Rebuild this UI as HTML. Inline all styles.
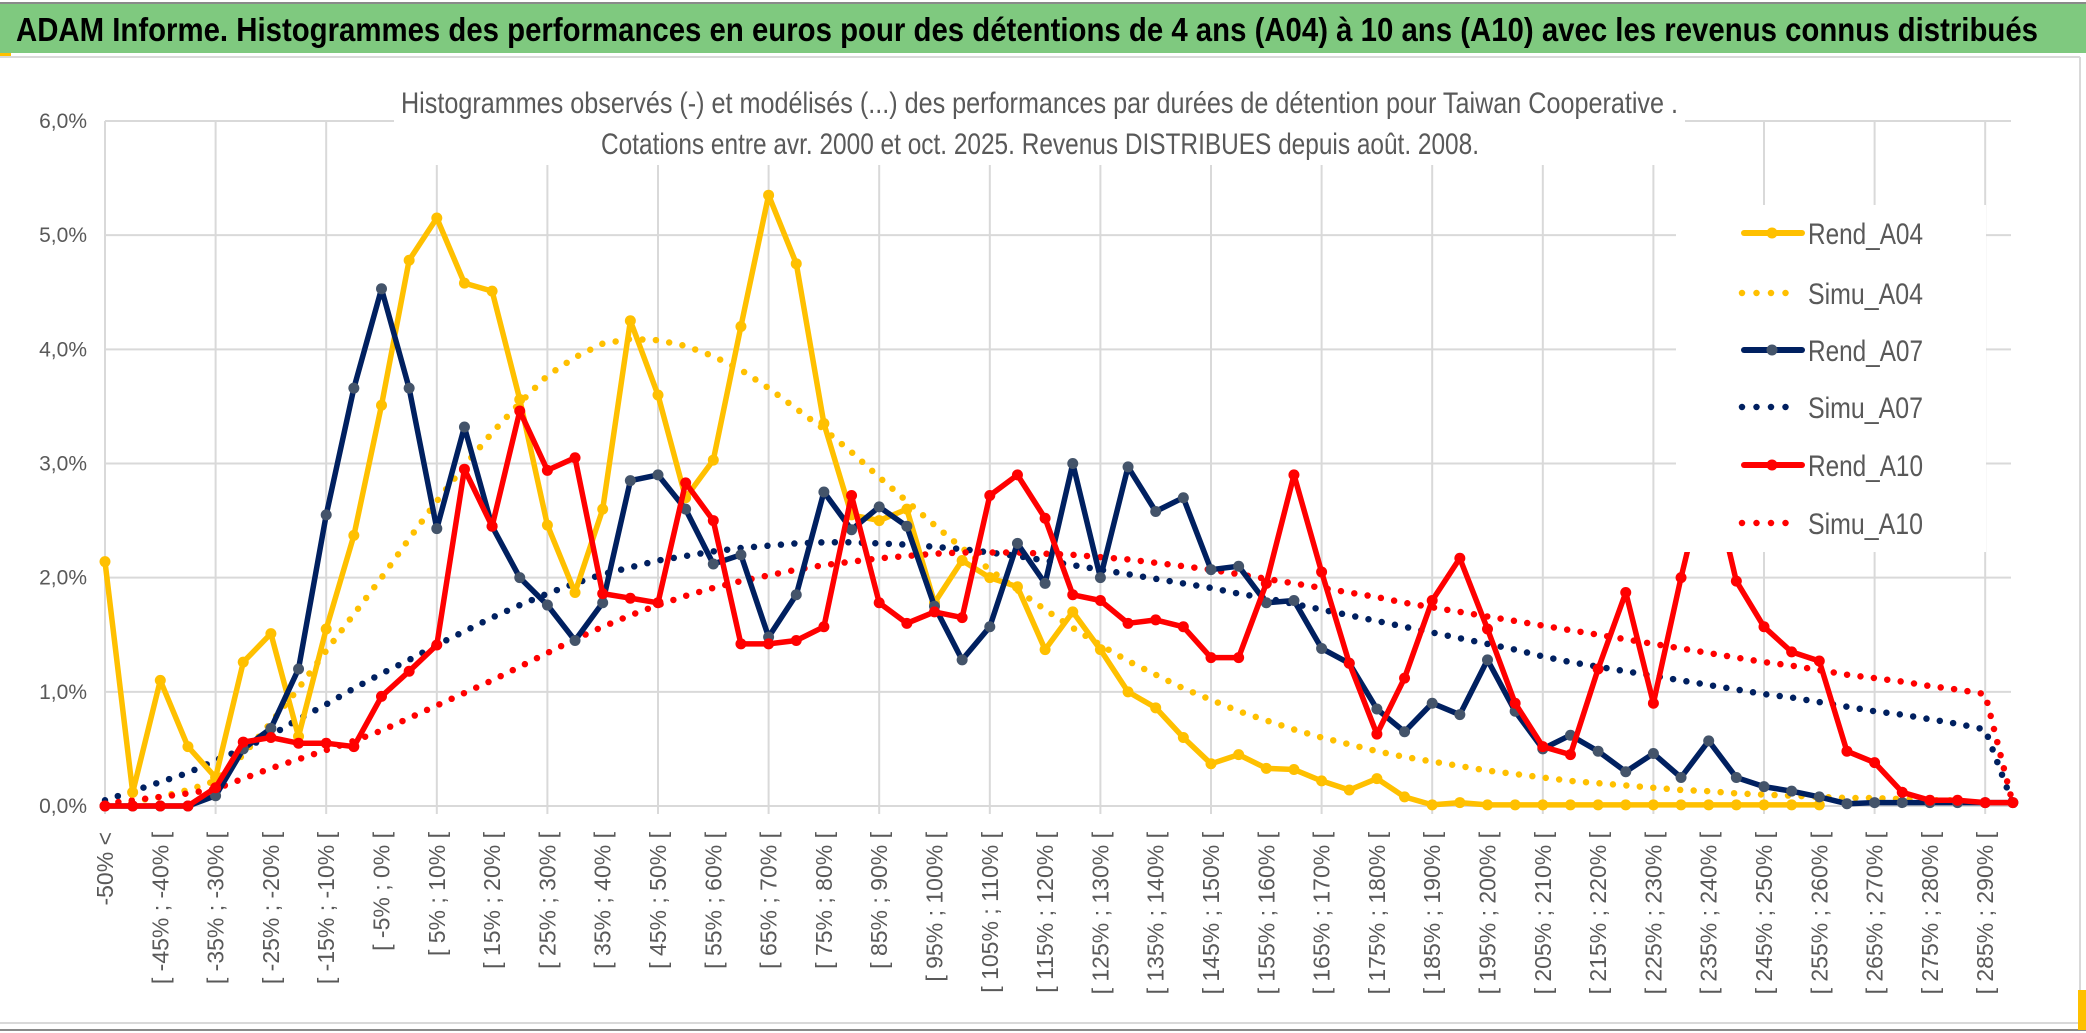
<!DOCTYPE html>
<html><head><meta charset="utf-8"><style>
html,body{margin:0;padding:0;background:#fff;}
svg{display:block;}
text{font-family:"Liberation Sans",sans-serif;}
</style></head><body>
<svg id="chart" width="2086" height="1033" viewBox="0 0 2086 1033" xmlns="http://www.w3.org/2000/svg">
<rect x="0" y="0" width="2086" height="1033" fill="#fff"/>
<rect x="0" y="4" width="2086" height="49" fill="#7fc97f"/>
<line x1="0" y1="3" x2="2086" y2="3" stroke="#8a8a8a" stroke-width="2"/>
<text x="16" y="41" font-size="33" font-weight="bold" fill="#000" textLength="2022" lengthAdjust="spacingAndGlyphs">ADAM Informe. Histogrammes des performances en euros pour des détentions de 4 ans (A04) à 10 ans (A10) avec les revenus connus distribués</text>
<rect x="0" y="53" width="11" height="3" fill="#ffc000"/>
<line x1="0" y1="57" x2="2080" y2="57" stroke="#d9d9d9" stroke-width="2"/>
<line x1="2080" y1="57" x2="2080" y2="1023" stroke="#d9d9d9" stroke-width="2"/>
<line x1="0" y1="1023" x2="2080" y2="1023" stroke="#d9d9d9" stroke-width="2"/>
<line x1="0" y1="1030" x2="2086" y2="1030" stroke="#8a8a8a" stroke-width="2"/>
<rect x="2078" y="990" width="8" height="40" fill="#ffc000"/>
<g id="grid"></g>
<g id="yaxis"></g>
<g id="xaxis"></g>
<g id="series"></g>
<rect x="394" y="60" width="1291" height="105" fill="#fff"/>
<text x="401" y="113" font-size="30" fill="#595959" textLength="1277" lengthAdjust="spacingAndGlyphs">Histogrammes observés (-) et modélisés (...) des performances par durées de détention pour Taiwan Cooperative .</text>
<text x="601" y="154" font-size="30" fill="#595959" textLength="878" lengthAdjust="spacingAndGlyphs">Cotations entre avr. 2000 et oct. 2025. Revenus DISTRIBUES depuis août. 2008.</text>
<g id="legend"></g>
</svg>
<script>
const categories = ["-50% <"];
for (let k = -50; k < 295; k += 5) categories.push("[ " + k + "% ; " + (k + 5) + "% [");
const yTicks = [0,1,2,3,4,5,6];
const yTickLabels = ["0,0%","1,0%","2,0%","3,0%","4,0%","5,0%","6,0%"];
const seriesNames = ["Rend_A04","Simu_A04","Rend_A07","Simu_A07","Rend_A10","Simu_A10"];
const rendA04 = [2.14,0.12,1.10,0.52,0.25,1.26,1.51,0.61,1.55,2.37,3.51,4.78,5.15,4.58,4.51,3.56,2.46,1.87,2.6,4.25,3.6,2.7,3.03,4.2,5.35,4.75,3.35,2.55,2.5,2.6,1.78,2.15,2.0,1.92,1.37,1.7,1.37,1.0,0.86,0.6,0.37,0.45,0.33,0.32,0.22,0.14,0.24,0.08,0.01,0.03,0.01,0.01,0.01,0.01,0.01,0.01,0.01,0.01,0.01,0.01,0.01,0.01,0.01,null,null,null,null,null,null,null];
const simuA04 = [0,0.04,0.08,0.14,0.22,0.45,0.73,1.03,1.36,1.68,2.0,2.34,2.67,2.98,3.27,3.53,3.77,3.93,4.05,4.09,4.08,4.03,3.94,3.82,3.66,3.48,3.3,3.1,2.88,2.67,2.46,2.26,2.07,1.89,1.72,1.56,1.41,1.27,1.15,1.03,0.93,0.83,0.75,0.67,0.6,0.54,0.48,0.43,0.39,0.35,0.31,0.28,0.25,0.22,0.2,0.18,0.16,0.14,0.13,0.11,0.1,0.09,0.08,0.07,0.07,0.06,0.05,0.05,null,null];
const rendA07 = [0,0,0,0,0.09,0.5,0.68,1.2,2.55,3.66,4.53,3.66,2.43,3.32,2.45,2.0,1.76,1.45,1.78,2.85,2.9,2.6,2.12,2.2,1.48,1.85,2.75,2.42,2.62,2.45,1.75,1.28,1.57,2.3,1.95,3.0,2.0,2.97,2.58,2.7,2.07,2.1,1.78,1.8,1.38,1.25,0.85,0.65,0.9,0.8,1.28,0.83,0.5,0.62,0.48,0.3,0.46,0.25,0.57,0.25,0.17,0.13,0.08,0.02,0.03,0.03,0.03,0.03,0.03,0.03];
const simuA07 = [0.05,0.13,0.21,0.29,0.4,0.5,0.62,0.76,0.89,1.03,1.16,1.28,1.41,1.53,1.65,1.76,1.86,1.95,2.03,2.09,2.15,2.19,2.23,2.26,2.28,2.3,2.31,2.31,2.3,2.29,2.27,2.25,2.22,2.19,2.15,2.11,2.07,2.03,1.99,1.95,1.91,1.86,1.82,1.77,1.72,1.67,1.62,1.57,1.52,1.47,1.42,1.37,1.31,1.26,1.22,1.18,1.14,1.1,1.06,1.02,0.98,0.95,0.91,0.87,0.83,0.8,0.76,0.72,0.67,0.02];
const rendA10 = [0,0,0,0,0.16,0.56,0.6,0.55,0.55,0.52,0.96,1.18,1.41,2.95,2.45,3.46,2.94,3.05,1.86,1.82,1.78,2.83,2.5,1.42,1.42,1.45,1.57,2.72,1.78,1.6,1.7,1.65,2.72,2.9,2.52,1.85,1.8,1.6,1.63,1.57,1.3,1.3,1.95,2.9,2.05,1.25,0.63,1.12,1.8,2.17,1.55,0.9,0.52,0.45,1.2,1.87,0.9,2.0,3.0,1.97,1.57,1.35,1.27,0.48,0.38,0.12,0.05,0.05,0.03,0.03];
const simuA10 = [0.02,0.05,0.08,0.11,0.15,0.24,0.33,0.41,0.49,0.57,0.66,0.77,0.88,0.99,1.1,1.22,1.34,1.46,1.57,1.67,1.76,1.84,1.91,1.97,2.02,2.07,2.11,2.14,2.17,2.19,2.21,2.22,2.22,2.22,2.21,2.2,2.18,2.16,2.13,2.1,2.07,2.03,1.99,1.95,1.91,1.87,1.83,1.78,1.74,1.7,1.66,1.62,1.58,1.54,1.5,1.46,1.42,1.38,1.34,1.3,1.26,1.23,1.19,1.15,1.12,1.09,1.05,1.02,0.98,0.02];

const NS = "http://www.w3.org/2000/svg";
const X0 = 105, STEP = 27.65, Y0 = 806, YPER = 114.17;
function xs(i){ return X0 + i * STEP; }
function ys(v){ return Y0 - v * YPER; }
function mk(tag, attrs, parent){
  const e = document.createElementNS(NS, tag);
  for (const k in attrs) e.setAttribute(k, attrs[k]);
  parent.appendChild(e); return e;
}
const grid = document.getElementById("grid");
yTicks.forEach(t => {
  const l = mk("line", {x1: X0, x2: 2011, y1: ys(t), y2: ys(t), stroke: "#d9d9d9", "stroke-width": 2}, grid);
  
  
});
for (let i = 0; i < categories.length; i += 4) {
  const l = mk("line", {x1: xs(i), x2: xs(i), y1: ys(6), y2: Y0 + 8, stroke: "#d9d9d9", "stroke-width": 2}, grid);
  
  
}
const yaxis = document.getElementById("yaxis");
yTicks.forEach((t, k) => {
  const tx = mk("text", {x: 87, y: ys(t) + 7, "font-size": 21, fill: "#595959", "text-anchor": "end"}, yaxis);
  tx.textContent = yTickLabels[k];
  
  
});
const xaxis = document.getElementById("xaxis");
for (let i = 0; i < categories.length; i += 2) {
  const tx = mk("text", {x: 0, y: 0, "font-size": 23, fill: "#595959", "text-anchor": "end",
    transform: "translate(" + (xs(i) + 8) + ",832) rotate(-90)"}, xaxis);
  tx.textContent = categories[i];
  
  
}
const series = document.getElementById("series");
function pathFor(arr){
  let d = "", pen = false;
  arr.forEach((v, i) => {
    if (v === null) { pen = false; return; }
    d += (pen ? "L" : "M") + xs(i).toFixed(1) + "," + ys(v).toFixed(1);
    pen = true;
  });
  return d;
}
function dotted(arr, color, name){
  const p = mk("path", {d: pathFor(arr), fill: "none", stroke: color, "stroke-width": 6.5, "stroke-linecap": "round", "stroke-dasharray": "0 13.5"}, series);
  
  
}
function solid(arr, color, mcolor, name){
  const p = mk("path", {d: pathFor(arr), fill: "none", stroke: color, "stroke-width": 5.5, "stroke-linejoin": "round"}, series);
  
  
  arr.forEach((v, i) => {
    if (v === null) return;
    const c = mk("circle", {cx: xs(i), cy: ys(v), r: 5.5, fill: mcolor}, series);
    
    
  });
}
dotted(simuA04, "#ffc000", "simu-a04-line");
dotted(simuA07, "#002060", "simu-a07-line");
dotted(simuA10, "#ff0000", "simu-a10-line");
solid(rendA04, "#ffc000", "#ffc000", "rend-a04-line");
solid(rendA07, "#002060", "#44546a", "rend-a07-line");
solid(rendA10, "#ff0000", "#ff0000", "rend-a10-line");

const legend = document.getElementById("legend");
const lg = mk("rect", {x: 1676, y: 205, width: 310, height: 347, fill: "#fff"}, legend);


const legColors = ["#ffc000","#ffc000","#002060","#002060","#ff0000","#ff0000"];
const legMarkers = ["#ffc000",null,"#44546a",null,"#ff0000",null];
const legY = [233,293,350,407,465,523];
seriesNames.forEach((n, k) => {
  const y = legY[k];
  if (legMarkers[k]) {
    const l = mk("line", {x1: 1744, x2: 1802, y1: y, y2: y, stroke: legColors[k], "stroke-width": 6, "stroke-linecap": "round"}, legend);
    
    
    const c = mk("circle", {cx: 1772, cy: y, r: 5.5, fill: legMarkers[k]}, legend);
    
    
  } else {
    const l = mk("line", {x1: 1742, x2: 1800, y1: y, y2: y, stroke: legColors[k], "stroke-width": 6.5, "stroke-linecap": "round", "stroke-dasharray": "0 14.5"}, legend);
    
    
  }
  const t = mk("text", {x: 1808, y: y + 11, "font-size": 30, fill: "#595959", textLength: 115, lengthAdjust: "spacingAndGlyphs"}, legend);
  t.textContent = n;
  
  
});
</script>
</body></html>
